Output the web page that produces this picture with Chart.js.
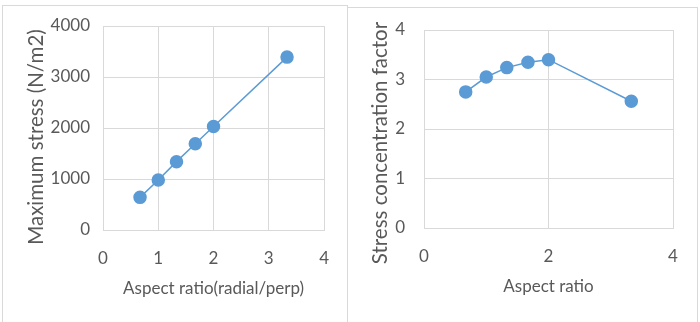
<!DOCTYPE html>
<html>
<head>
<meta charset="utf-8">
<script src="https://cdn.jsdelivr.net/npm/chart.js@4"></script>
<style>
    body { margin: 0; background: #fff; width: 700px; height: 322px; overflow: hidden; position: relative; }
    .box { position: absolute; border: 1px solid #d9d9d9; }
    canvas { position: absolute; top: 0; }
</style>
</head>
<body>
<div class="box" style="left:2px; top:5px; width:344px; height:330px;"></div>
<div class="box" style="left:347px; top:7px; width:349px; height:330px;"></div>
<canvas id="stressChart" width="347" height="322" style="left:0"></canvas>
<canvas id="factorChart" width="353" height="322" style="left:347px"></canvas>
<script>
// Aspect ratios (shared x values)
const aspectRatios = [0.67, 1, 1.33, 1.67, 2, 3.33];

// Left chart: maximum stress (N/m2)
const maxStress = [640, 980, 1340, 1690, 2030, 3390];

// Right chart: stress concentration factor
const concFactor = [2.75, 3.05, 3.24, 3.35, 3.4, 2.56];

const blue = '#5b9bd5';
const gridGrey = '#d9d9d9';
const textGrey = '#595959';
const fontFamily = 'Lato, "Open Sans", sans-serif';

function makePoints(ys) {
    return aspectRatios.map((x, i) => ({ x: x, y: ys[i] }));
}

// Excel places the y title a bit lower than the plot centre, so draw it ourselves
const yTitlePlugin = {
    id: 'yTitle',
    afterDraw(chart, args, opts) {
        const ctx = chart.ctx;
        ctx.save();
        ctx.translate(opts.x, opts.y);
        ctx.rotate(-Math.PI / 2);
        ctx.font = '20.5px ' + fontFamily;
        ctx.fillStyle = textGrey;
        ctx.textAlign = 'center';
        ctx.textBaseline = 'middle';
        ctx.fillText(opts.text, 0, 0);
        ctx.restore();
    }
};

function buildChart(id, values, cfg) {
    const ctx = document.getElementById(id).getContext('2d');
    return new Chart(ctx, {
        type: 'scatter',
        data: {
            datasets: [{
                data: makePoints(values),
                showLine: true,
                borderColor: blue,
                borderWidth: 1.5,
                backgroundColor: blue,
                pointBackgroundColor: blue,
                pointBorderColor: blue,
                pointRadius: 6,
                pointHoverRadius: 6
            }]
        },
        plugins: [yTitlePlugin],
        options: {
            responsive: false,
            animation: false,
            layout: { padding: cfg.padding },
            plugins: {
                legend: { display: false },
                tooltip: { enabled: false },
                yTitle: { text: cfg.yTitle, x: cfg.yTitleX, y: cfg.yTitleY }
            },
            scales: {
                x: {
                    type: 'linear',
                    min: 0,
                    max: 4,
                    afterFit: s => { s.height = cfg.xHeight; },
                    ticks: { stepSize: cfg.xStep, color: textGrey, padding: 18, font: { family: fontFamily, size: 17 } },
                    grid: { color: gridGrey, drawTicks: false },
                    border: { color: gridGrey },
                    title: {
                        display: true,
                        text: cfg.xTitle,
                        color: textGrey,
                        font: { family: fontFamily, size: 17 },
                        padding: { top: 0, bottom: cfg.xTitlePad }
                    }
                },
                y: {
                    min: 0,
                    max: cfg.yMax,
                    afterFit: s => { s.width = cfg.yWidth; },
                    ticks: {
                        stepSize: cfg.yStep,
                        color: textGrey,
                        padding: cfg.yTickPad,
                        font: { family: fontFamily, size: 17 },
                        callback: v => String(v)
                    },
                    grid: { color: gridGrey, drawTicks: false },
                    border: { color: gridGrey }
                }
            }
        }
    });
}

buildChart('stressChart', maxStress, {
    padding: { top: 26, right: 22, left: 0, bottom: 0 },
    xHeight: 92,
    yWidth: 103,
    xStep: 1,
    yMax: 4000,
    yStep: 1000,
    yTickPad: 13,
    xTitle: 'Aspect ratio(radial/perp)',
    yTitle: 'Maximum stress (N/m2)',
    yTitleX: 36,
    yTitleY: 137,
    xTitlePad: 23
});

buildChart('factorChart', concFactor, {
    padding: { top: 30, right: 27, left: 0, bottom: 0 },
    xHeight: 94,
    yWidth: 77,
    xStep: 2,
    yMax: 4,
    yStep: 1,
    yTickPad: 19,
    xTitle: 'Aspect ratio',
    yTitle: 'Stress concentration factor',
    yTitleX: 33,
    yTitleY: 143,
    xTitlePad: 25
});
</script>
</body>
</html>
